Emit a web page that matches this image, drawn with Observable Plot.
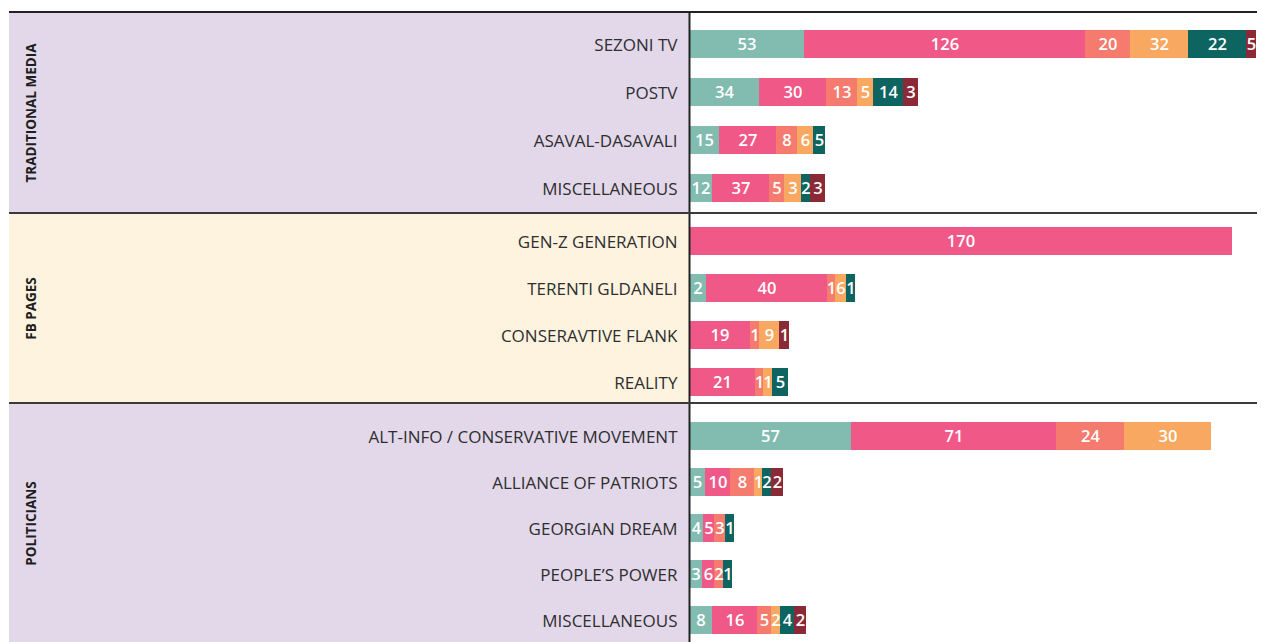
<!DOCTYPE html>
<html><head><meta charset="utf-8">
<script src="https://cdn.jsdelivr.net/npm/d3@7"></script>
<script src="https://cdn.jsdelivr.net/npm/@observablehq/plot@0.6"></script>
<style>
body{margin:0;background:#fff;}
#chart{position:absolute;left:9px;top:11px;width:1248px;}
.grp{border-top:2px solid #3a3a3a;}
.grp.first{border-top:2px solid #222;}
.grp svg{display:block;overflow:visible;}
</style></head><body><div id="chart"></div>
<script>
// Six series (segment colours, left to right)
const seriesKeys = ["s1","s2","s3","s4","s5","s6"];
const seriesColors = ["#82bcb1","#f05888","#f47b6d","#f9a861","#0e6461","#8b2937"];

// Groups
const groupNames = ["TRADITIONAL MEDIA","FB PAGES","POLITICIANS"];
const groupBackgrounds = ["#e2d8ea","#fef3de","#e2d8ea"];

// Traditional media
const tmRows = ["SEZONI TV","POSTV","ASAVAL-DASAVALI","MISCELLANEOUS"];
const tmCounts = [
  [53,126,20,32,22,5],
  [34,30,13,5,14,3],
  [15,27,8,6,5,null],
  [12,37,5,3,2,3]
];
// drawn segment lengths as they appear in the picture
const tmLengths = [
  [115,281,45,58,58,10],
  [70,67,31,16,30,15],
  [30,57,21,16,12,null],
  [23,57,15,17,9,15]
];

// FB pages
const fbRows = ["GEN-Z GENERATION","TERENTI GLDANELI","CONSERAVTIVE FLANK","REALITY"];
const fbCounts = [
  [null,170,null,null,null,null],
  [2,40,1,6,1,null],
  [null,19,1,9,null,1],
  [null,21,1,1,5,null]
];
const fbLengths = [
  [null,543,null,null,null,null],
  [17,121,8,11,9,null],
  [null,61,9,20,null,10],
  [null,66,8,9,16,null]
];

// Politicians
const polRows = ["ALT-INFO / CONSERVATIVE MOVEMENT","ALLIANCE OF PATRIOTS","GEORGIAN DREAM","PEOPLE’S POWER","MISCELLANEOUS"];
const polCounts = [
  [57,71,24,30,null,null],
  [5,10,8,1,2,2],
  [4,5,3,null,1,null],
  [3,6,2,null,1,null],
  [8,16,5,2,4,2]
];
const polLengths = [
  [162,205,68,87,null,null],
  [16,25,24,8,9,12],
  [14,11,11,null,9,null],
  [13,12,9,null,9,null],
  [23,45,14,9,14,12]
];

const groupRows = [tmRows, fbRows, polRows];
const groupCounts = [tmCounts, fbCounts, polCounts];
const groupLengths = [tmLengths, fbLengths, polLengths];

// layout
const W = 1248, ML = 680, BAR = 28;
const heights = [199, 188, 238];
const insetTops = [16, 12, 17];
const insetBottoms = [10, 6, 7];
const xMax = 568;

const chart = document.getElementById("chart");
const font = "'Open Sans', 'Noto Sans', sans-serif";

groupNames.forEach((g, gi) => {
  const rows = groupRows[gi];
  const data = [];
  rows.forEach((r, ri) => {
    seriesKeys.forEach((s, si) => {
      const v = groupCounts[gi][ri][si];
      const len = groupLengths[gi][ri][si];
      if (v != null && len != null) data.push({row: r, series: s, count: v, len});
    });
  });
  const H = heights[gi];
  const extent = H - insetTops[gi] - insetBottoms[gi];
  const step = (extent - BAR) / (rows.length - 1);
  const pInner = 1 - BAR / step;

  const plot = Plot.plot({
    width: W, height: H,
    marginLeft: ML, marginRight: 0, marginTop: 0, marginBottom: 0,
    style: {fontFamily: font, fontSize: "17px", color: "#2e2e2e", background: "transparent"},
    x: {domain: [0, xMax], axis: null},
    y: {domain: rows, paddingInner: pInner, paddingOuter: 0, insetTop: insetTops[gi], insetBottom: insetBottoms[gi], axis: null},
    color: {domain: seriesKeys, range: seriesColors},
    marks: [
      Plot.barX(data, Plot.stackX({x: "len", y: "row", fill: "series"})),
      Plot.text(data, Plot.stackX({x: "len", y: "row", text: d => String(d.count), fill: "white", fontSize: 16.5, fontWeight: 600})),
      Plot.axisY({tickSize: 0, tickPadding: 12, label: null, fontSize: 17, dy: 1}),
      Plot.text([g], {frameAnchor: "left", dx: -658, rotate: -90, text: d => d, fontWeight: 700, fontSize: 13.5, fill: "#1e1e1e", textAnchor: "middle"}),
      Plot.ruleX([0], {stroke: "#222", strokeWidth: 2})
    ]
  });
  const div = document.createElement("div");
  div.className = "grp" + (gi === 0 ? " first" : "");
  div.style.background = `linear-gradient(to right, ${groupBackgrounds[gi]} 0px, ${groupBackgrounds[gi]} ${ML}px, #ffffff ${ML}px)`;
  div.appendChild(plot);
  chart.appendChild(div);
});
</script></body></html>
